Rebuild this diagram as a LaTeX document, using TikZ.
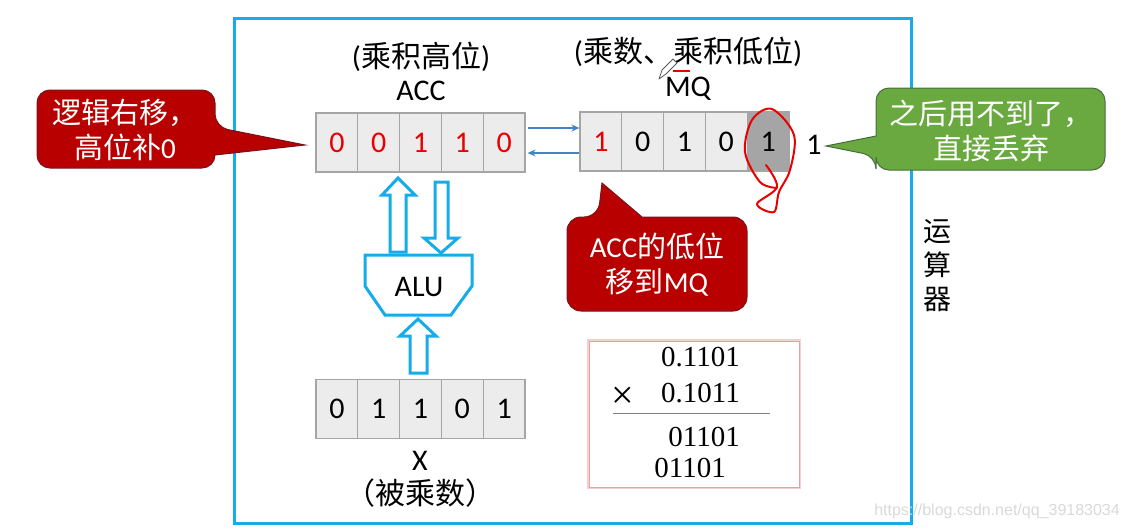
\documentclass[tikz,border=0pt]{standalone}
\usepackage{fontspec}
\setmainfont{Carlito}
\newfontfamily\cjk{Noto Sans CJK SC}
\newfontfamily\tms{Liberation Serif}
\newfontfamily\wmfont{Liberation Sans}
\usetikzlibrary{arrows.meta}
\definecolor{frameblue}{RGB}{22,172,234}
\definecolor{cellfill}{RGB}{236,236,236}
\definecolor{cellline}{RGB}{165,165,165}
\definecolor{darkcell}{RGB}{165,165,165}
\definecolor{digred}{RGB}{232,0,0}
\definecolor{calloutred}{RGB}{185,0,0}
\definecolor{calloutredline}{RGB}{120,20,30}
\definecolor{calloutgreen}{RGB}{106,168,64}
\definecolor{calloutgreenline}{RGB}{70,110,60}
\definecolor{linkblue}{RGB}{70,130,200}
\definecolor{inkred}{RGB}{235,0,0}
\definecolor{boxglow}{RGB}{235,160,160}
\begin{document}
\begin{tikzpicture}[x=1pt,y=-1pt,
  cell/.style={draw=cellline, line width=1.2pt, fill=cellfill, minimum width=41.8pt, minimum height=59pt, inner sep=0pt, font=\fontsize{30}{32}\selectfont},
  lbl/.style={font=\fontsize{30}{34}\selectfont, inner sep=0pt},
  bubbletext/.style={text=white, align=center, inner sep=0pt, font=\fontsize{29}{35}\selectfont},
  blockarrow/.style={draw=frameblue, line width=3pt, fill=white, line join=miter},
  link/.style={draw=linkblue, line width=1.5pt, -{Stealth[length=8pt,width=7pt]}},
  calc/.style={font=\tms\fontsize{29}{30}\selectfont, inner sep=0pt}
]
\useasboundingbox (0,0) rectangle (1129,530);

% frame
\draw[frameblue, line width=3pt] (234,18) rectangle (911,523);

% labels
\node[lbl] (acclbl1) at (421,57) {({\cjk 乘积高位})};
\node[lbl] (acclbl2) at (421,91) {ACC};
\node[lbl] (mqlbl1) at (688,52) {({\cjk 乘数、乘积低位})};
\node[lbl] (mqlbl2) at (688,89) {MQ};

% ACC register
\foreach \d [count=\i] in {0,0,1,1,0}
  \node[cell, text=digred] (acc\i) at ({336.9+41.8*(\i-1)},142.5) {\d};

% MQ register
\node[cell, text=digred] (mq1) at (600.9,141.5) {1};
\node[cell] (mq2) at (642.7,141.5) {0};
\node[cell] (mq3) at (684.5,141.5) {1};
\node[cell] (mq4) at (726.3,141.5) {0};
\node[cell, fill=darkcell] (mq5) at (768.1,141.5) {1};
\node[font=\fontsize{30}{32}\selectfont, inner sep=0pt] (drop) at (814,145) {1};

% links ACC <-> MQ
\draw[link] ([xshift=2pt,yshift=14.5pt]acc5.east) -- ([yshift=13.5pt]mq1.west);
\draw[link] ([yshift=-11.5pt]mq1.west) -- ([xshift=2pt,yshift=-10.5pt]acc5.east);

% X register
\foreach \d [count=\i] in {0,1,1,0,1}
  \node[cell] (x\i) at ({336.9+41.8*(\i-1)},409) {\d};
\node[lbl] (xlbl1) at (420,461) {X};
\node[lbl] (xlbl2) at (420,493) {\cjk （被乘数）};

% ALU
\draw[frameblue, line width=3pt, fill=white, line join=miter]
  (365,255) -- (472,255) -- (472,286) -- (451,315) -- (385,315) -- (365,286) -- cycle;
\node[lbl] (alu) at (419,287) {ALU};

% block arrows
\path[blockarrow] (390,252) -- (390,195) -- (382,195) -- (398,178) -- (415,195) -- (406,195) -- (406,252) -- cycle;
\path[blockarrow] (435,182) -- (448,182) -- (448,238) -- (458,238) -- (441,253) -- (424,238) -- (435,238) -- cycle;
\path[blockarrow] (410,373) -- (410,336) -- (400,336) -- (418,319) -- (436,336) -- (427,336) -- (427,373) -- cycle;

% left callout
\draw[fill=calloutred, draw=calloutredline, line width=1pt, rounded corners=13pt]
  (37,130) -- (37,90) -- (215,90) -- (215,127) [sharp corners] -- (305,145) -- (215,155) [rounded corners=13pt] -- (215,168) -- (37,168) -- cycle;
\node[bubbletext] (lefttext) at (125,130) {{\cjk 逻辑右移，}\\{\cjk 高位补}0};

% green callout
\draw[fill=calloutgreen, draw=calloutgreenline, line width=1pt, rounded corners=13pt]
  (990,88) -- (1105,88) -- (1105,170) -- (876,170) -- (876,156) [sharp corners] -- (826,146) -- (876,136) [rounded corners=13pt] -- (876,88) -- cycle;
\node[bubbletext] (greentext) at (991,131) {{\cjk 之后用不到了，}\\{\cjk 直接丢弃}};

% bottom callout
\draw[fill=calloutred, draw=calloutredline, line width=1pt, rounded corners=14pt]
  (567,264) -- (567,217) -- (598,217) [sharp corners] -- (602,183) -- (642,217) [rounded corners=14pt] -- (747,217) -- (747,311) -- (567,311) -- cycle;
\node[bubbletext] (bottomtext) at (657,265) {ACC{\cjk 的低位}\\{\cjk 移到}MQ};

% side label
\node[lbl, font=\cjk\fontsize{28}{34}\selectfont, align=center] (alulbl) at (937,266) {运\\算\\器};

% calculation box
\draw[boxglow, line width=4pt, opacity=0.5] (589,341) rectangle (799,487);
\draw[fill=white, draw=boxglow, line width=1pt] (589,341) rectangle (799,487);
\node[calc, anchor=east] (m1) at (740,357) {0.1101};
\node[calc, font=\tms\fontsize{40}{40}\selectfont] (times) at (623,398) {×};
\node[calc, anchor=east] (m2) at (740,393) {0.1011};
\coordinate (rl) at (613,413);
\coordinate (rr) at (770,413);
\draw[gray, line width=1pt] (rl) -- (rr);
\node[calc, anchor=east] (p1) at (740,437) {01101};
\node[calc, anchor=east] (p2) at (726,468) {01101};

% hand-drawn annotations
\draw[inkred, line width=2.5pt] (673,71) -- (690,71);
\draw[gray!70!black, line width=0.8pt, fill=white, line join=round]
  (659,79) -- (662,70) -- (673,59) -- (677,63) -- (666,74) -- cycle;
\draw[inkred, line width=2pt, line cap=round, line join=round]
  plot[smooth, tension=0.55] coordinates {(766,165) (777,187) (757,204) (774,212) (779,192) (790,170) (794,135) (772,109) (752,120) (745,152) (760,182) (777,188)};

% watermark
\node[font=\wmfont\fontsize{16}{18}\selectfont, text=gray!30, anchor=east, inner sep=0pt] (wm) at (1120,511) {https://blog.csdn.net/qq\_39183034};
\end{tikzpicture}
\end{document}
